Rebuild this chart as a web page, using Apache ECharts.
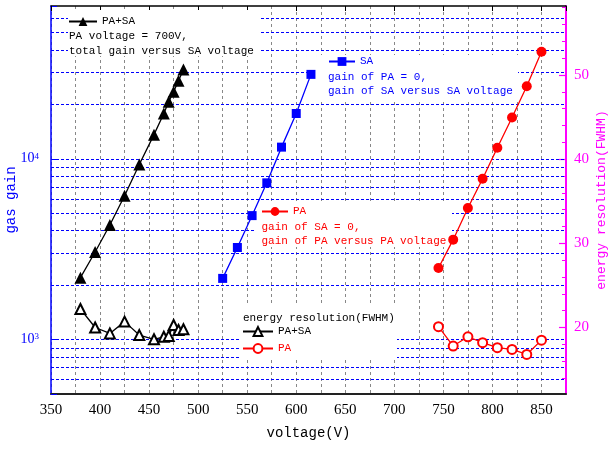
<!DOCTYPE html>
<html>
<head>
<meta charset="utf-8">
<title>gas gain and energy resolution versus voltage</title>
<script src="https://cdn.jsdelivr.net/npm/echarts@6/dist/echarts.min.js"></script>
<style>
    html, body { margin: 0; padding: 0; background: #fff; }
    #chart { width: 609px; height: 449px; }
</style>
</head>
<body>
<div id="chart"></div>
<script>
// PA+SA, total gain versus SA voltage (PA at 700V)
const voltPASA = [380, 395, 410, 425, 440, 455, 465, 470, 475, 480, 485];
const gainPASA = [2200, 3050, 4300, 6250, 9300, 13600, 17800, 20700, 23500, 27000, 31200];
const resPASA = [22.2, 20.0, 19.3, 20.7, 19.1, 18.6, 18.9, 19.0, 20.3, 19.7, 19.8];

// SA only
const voltSA = [525, 540, 555, 570, 585, 600, 615];
const gainSA = [2180, 3230, 4850, 7360, 11600, 17800, 29300];

// PA only
const voltPA = [745, 760, 775, 790, 805, 820, 835, 850];
const gainPA = [2490, 3570, 5340, 7750, 11500, 16900, 25200, 39100];
const resPA = [20.1, 17.8, 18.9, 18.2, 17.6, 17.4, 16.8, 18.5];

// axis ticks
const voltTicks = [350, 400, 450, 500, 550, 600, 650, 700, 750, 800, 850];
const gainGrid = [600, 700, 800, 900, 1000, 2000, 3000, 4000, 5000, 6000, 7000, 8000, 9000,
    10000, 20000, 30000, 40000, 50000, 60000];
const resLabels = [20, 30, 40, 50];
const resMinor = [14, 16, 18, 22, 24, 26, 28, 32, 34, 36, 38, 42, 44, 46, 48, 52, 54, 56, 58];

const BLUE = '#0000ff';
const RED = '#ff0000';
const MAGENTA = '#ff00ff';
const MONO = 'Liberation Mono';
const SERIF = 'Liberation Serif';

function pairs(xs, ys) {
    return xs.map((x, i) => [x, ys[i]]);
}

// white patches behind the legends, they hide the grid like in the original plot
function whiteBox(x, y, w, h) {
    return {
        type: 'rect', zlevel: 1, z: 1,
        shape: { x: x, y: y, width: w, height: h },
        style: { fill: '#ffffff', stroke: null }
    };
}

function note(text, x, y, color) {
    return {
        type: 'text', zlevel: 1, z: 2, x: x, y: y,
        style: { text: text, fill: color, font: '11px "' + MONO + '"', verticalAlign: 'middle' }
    };
}

function legendBox(left, top, items, itemWidth) {
    return {
        zlevel: 2, left: left, top: top, orient: 'vertical', padding: 0,
        itemWidth: itemWidth, itemHeight: 11, itemGap: 6,
        textStyle: { fontFamily: MONO, fontSize: 11 },
        data: items
    };
}

function initChart() {
    const chart = echarts.init(document.getElementById('chart'));

    const option = {
        animation: false,
        grid: { left: 51, right: 43, top: 6, bottom: 55, outerBoundsMode: 'none', containLabel: false },
        xAxis: [
            {
                type: 'value', min: 350, max: 875, interval: 25,
                name: 'voltage(V)', nameLocation: 'middle', nameGap: 32,
                nameTextStyle: { fontFamily: MONO, fontSize: 14, color: '#000' },
                axisLine: { lineStyle: { color: '#222', width: 2 } },
                axisTick: { show: false },
                axisLabel: { customValues: voltTicks, margin: 9, fontFamily: SERIF, fontSize: 15, color: '#000' },
                splitLine: { show: true, lineStyle: { color: '#888', type: [3, 3], width: 1 } }
            },
            {
                type: 'value', position: 'top', min: 350, max: 875, interval: 50,
                axisLine: { lineStyle: { color: '#000', width: 1.5 } },
                axisTick: { inside: true, length: 5, lineStyle: { color: '#000' } },
                axisLabel: { show: false },
                splitLine: { show: false }
            }
        ],
        yAxis: [
            {
                type: 'log', logBase: 10, min: 500, max: 70000,
                name: 'gas gain', nameLocation: 'middle', nameGap: 33, nameMoveOverlap: false,
                nameTextStyle: { fontFamily: MONO, fontSize: 14, color: BLUE },
                axisLine: { show: true, lineStyle: { color: BLUE, width: 1.5 } },
                axisTick: { inside: true, length: 6, lineStyle: { color: BLUE } },
                axisLabel: {
                    margin: 12,
                    formatter: function(v) {
                        const e = Math.round(Math.log10(v));
                        if ((e !== 3 && e !== 4) || Math.abs(v - Math.pow(10, e)) > 1e-6 * v) return '';
                        return '{b|10}{s|' + e + '}';
                    },
                    rich: {
                        b: { fontFamily: SERIF, fontSize: 14, color: BLUE },
                        s: { fontFamily: SERIF, fontSize: 9, color: BLUE, verticalAlign: 'top' }
                    }
                },
                splitLine: { show: false }
            },
            {
                type: 'value', position: 'right', min: 12.1, max: 58.2,
                name: 'energy resolution(FWHM)', nameLocation: 'middle', nameGap: 29, nameMoveOverlap: false,
                nameTextStyle: { fontFamily: MONO, fontSize: 13, color: MAGENTA },
                axisLine: { show: true, lineStyle: { color: MAGENTA, width: 2 } },
                axisTick: { inside: true, length: 4, customValues: resMinor, lineStyle: { color: MAGENTA } },
                axisLabel: { customValues: resLabels, margin: 8, fontFamily: SERIF, fontSize: 15, color: MAGENTA },
                splitLine: { show: false }
            },
            {
                type: 'value', position: 'right', min: 12.1, max: 58.2,
                axisLine: { show: false },
                axisTick: { inside: true, length: 7, customValues: resLabels, lineStyle: { color: MAGENTA, width: 1.2 } },
                axisLabel: { show: false },
                splitLine: { show: false }
            }
        ],
        legend: [
            legendBox(68, 16, [{ name: 'PA+SA', textStyle: { color: '#000' } }], 28),
            legendBox(328, 56, [{ name: 'SA', textStyle: { color: BLUE } }], 26),
            legendBox(261, 206, [{ name: 'PA', textStyle: { color: RED } }], 26),
            legendBox(242, 326, [
                { name: 'PA+SA ', textStyle: { color: '#000' } },
                { name: 'PA ', textStyle: { color: RED } }
            ], 30)
        ],
        graphic: {
            elements: [
                whiteBox(68, 10, 193, 46),
                whiteBox(310, 55, 208, 45),
                whiteBox(255, 203, 197, 44),
                whiteBox(240, 303, 157, 57),
                note('PA voltage = 700V,', 69, 36, '#000'),
                note('total gain versus SA voltage', 69, 50.7, '#000'),
                note('gain of PA = 0,', 328, 77.3, BLUE),
                note('gain of SA versus SA voltage', 328, 90.7, BLUE),
                note('gain of SA = 0,', 261.5, 226.7, RED),
                note('gain of PA versus PA voltage', 261.5, 240.7, RED),
                note('energy resolution(FWHM)', 243, 317.7, '#000')
            ]
        },
        series: [
            {
                name: 'gridlines', type: 'line', data: [], silent: true,
                xAxisIndex: 0, yAxisIndex: 0,
                markLine: {
                    silent: true, symbol: 'none', label: { show: false },
                    lineStyle: { color: BLUE, type: [3, 2], width: 1 },
                    data: gainGrid.map(v => ({ yAxis: v }))
                }
            },
            {
                name: 'PA+SA', type: 'line', zlevel: 2, yAxisIndex: 0,
                data: pairs(voltPASA, gainPASA),
                symbol: 'triangle', symbolSize: 12,
                itemStyle: { color: '#000' },
                lineStyle: { color: '#000', width: 1.3 }
            },
            {
                name: 'SA', type: 'line', zlevel: 2, yAxisIndex: 0,
                data: pairs(voltSA, gainSA),
                symbol: 'rect', symbolSize: 9,
                itemStyle: { color: BLUE },
                lineStyle: { color: BLUE, width: 1.3 }
            },
            {
                name: 'PA', type: 'line', zlevel: 2, yAxisIndex: 0,
                data: pairs(voltPA, gainPA),
                symbol: 'circle', symbolSize: 10,
                itemStyle: { color: RED },
                lineStyle: { color: RED, width: 1.3 }
            },
            {
                name: 'PA+SA ', type: 'line', zlevel: 2, yAxisIndex: 1,
                data: pairs(voltPASA, resPASA),
                symbol: 'emptyTriangle', symbolSize: 10,
                itemStyle: { color: '#000', borderWidth: 1.2 },
                lineStyle: { color: '#000', width: 1.3 }
            },
            {
                name: 'PA ', type: 'line', zlevel: 2, yAxisIndex: 1,
                data: pairs(voltPA, resPA),
                symbol: 'emptyCircle', symbolSize: 9,
                itemStyle: { color: RED, borderWidth: 1.2 },
                lineStyle: { color: RED, width: 1.3 }
            }
        ]
    };

    chart.setOption(option);
    return chart;
}

document.addEventListener('DOMContentLoaded', function() {
    initChart();
});
</script>
</body>
</html>
